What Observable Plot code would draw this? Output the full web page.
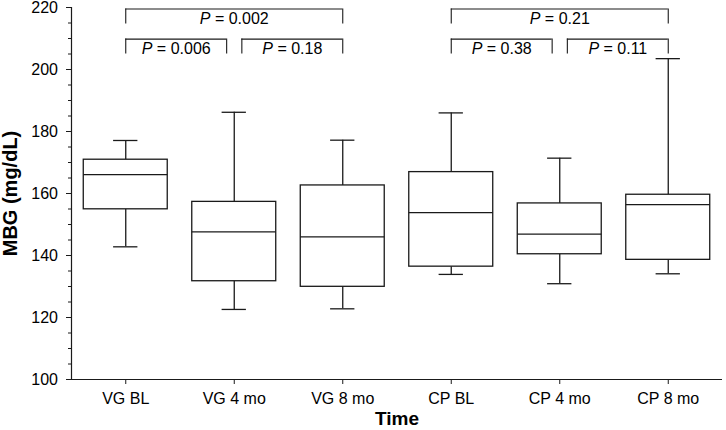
<!DOCTYPE html>
<html><head><meta charset="utf-8">
<script src="https://cdn.jsdelivr.net/npm/d3@7"></script>
<script src="https://cdn.jsdelivr.net/npm/@observablehq/plot@0.6"></script>
<style>body{margin:0;background:#fff}</style>
</head><body><div id="chart"></div>
<script>
const categories = ["VG BL", "VG 4 mo", "VG 8 mo", "CP BL", "CP 4 mo", "CP 8 mo"];
const whiskerLow  = [142.8, 122.6, 122.8, 133.9, 130.9, 134.1];
const q1          = [154.9, 131.7, 129.9, 136.4, 140.4, 138.6];
const median      = [166.1, 147.6, 146.0, 153.8, 146.9, 156.4];
const q3          = [170.9, 157.3, 162.6, 166.9, 156.8, 159.6];
const whiskerHigh = [177.1, 186.2, 177.2, 186.0, 171.4, 203.5];

const compFrom = ["VG BL", "VG BL", "VG 4 mo", "CP BL", "CP BL", "CP 4 mo"];
const compTo   = ["VG 8 mo", "VG 4 mo", "VG 8 mo", "CP 8 mo", "CP 4 mo", "CP 8 mo"];
const pValues  = ["0.002", "0.006", "0.18", "0.21", "0.38", "0.11"];

const yMajorTicks = [100, 120, 140, 160, 180, 200, 220];
const yMinorTicks = d3.range(100, 221, 5);
const yLabel = "MBG (mg/dL)";
const xLabel = "Time";

// build tables
const boxes = categories.map((c, i) => ({
  i, c, lo: whiskerLow[i], q1: q1[i], med: median[i], q3: q3[i], hi: whiskerHigh[i]
}));
const boxHalf = 0.387, capHalf = 0.112, gap = 0.07;
const idx = c => categories.indexOf(c);
const singles = compFrom.map((f, k) => ({f: idx(f), t: idx(compTo[k]), k})).filter(d => d.t - d.f === 1);
const brackets = compFrom.map((f, k) => {
  const a = idx(f), b = idx(compTo[k]);
  const span = b - a;
  let x1 = a, x2 = b;
  if (span === 1) {
    if (singles.some(s => s.f === b)) x2 = b - gap;
    if (singles.some(s => s.t === a)) x1 = a + gap;
  }
  const top = span >= 2 ? 219.5 : 209.8;
  return {x1, x2, top, bottom: top - 4.8, label: "P = " + pValues[k]};
});
const legs = brackets.flatMap(b => [{x: b.x1, y1: b.top, y2: b.bottom}, {x: b.x2, y1: b.top, y2: b.bottom}]);

const ink = "#1a1a1a";
const font = "'Liberation Sans', Arial, sans-serif";
const chart = Plot.plot({
  width: 726,
  height: 430,
  marginTop: 7,
  marginBottom: 51,
  marginLeft: 71,
  marginRight: 4,
  style: {fontFamily: font, fontSize: "16px", color: "#000", background: "#fff"},
  x: {domain: [-0.5, 5.5], axis: null},
  y: {domain: [100, 220], axis: null},
  marks: [
    // axes
    Plot.axisY({ticks: yMinorTicks, tickSize: 3, tickFormat: () => "", stroke: ink}),
    Plot.axisY({ticks: yMajorTicks, tickSize: 5, tickPadding: 8.5, stroke: ink, fontSize: 16}),
    Plot.axisX({ticks: d3.range(categories.length), tickFormat: i => categories[i], tickSize: 5, tickPadding: 8.5, stroke: ink, fontSize: 16}),
    Plot.ruleX([-0.5], {y1: 100, y2: 220, stroke: ink, strokeWidth: 1.2}),
    Plot.ruleY([100], {stroke: ink, strokeWidth: 1.2}),
    // whiskers
    Plot.ruleX(boxes, {x: "i", y1: "lo", y2: "q1", stroke: ink, strokeWidth: 1.3}),
    Plot.ruleX(boxes, {x: "i", y1: "q3", y2: "hi", stroke: ink, strokeWidth: 1.3}),
    Plot.ruleY(boxes, {y: "lo", x1: d => d.i - capHalf, x2: d => d.i + capHalf, stroke: ink, strokeWidth: 1.3}),
    Plot.ruleY(boxes, {y: "hi", x1: d => d.i - capHalf, x2: d => d.i + capHalf, stroke: ink, strokeWidth: 1.3}),
    // boxes
    Plot.rect(boxes, {x1: d => d.i - boxHalf, x2: d => d.i + boxHalf, y1: "q1", y2: "q3", fill: "white", stroke: ink, strokeWidth: 1.3}),
    Plot.ruleY(boxes, {y: "med", x1: d => d.i - boxHalf, x2: d => d.i + boxHalf, stroke: ink, strokeWidth: 1.3}),
    // significance brackets
    Plot.ruleY(brackets, {y: "top", x1: "x1", x2: "x2", stroke: ink, strokeWidth: 1.1}),
    Plot.ruleX(legs, {x: "x", y1: "y1", y2: "y2", stroke: ink, strokeWidth: 1.1}),
    Plot.text(brackets, {x: d => (d.x1 + d.x2) / 2, y: "top", text: "label", lineAnchor: "top", dy: 4, fontSize: 16, fill: "#000", className: "pval"}),
    // axis titles
    Plot.text([xLabel], {frameAnchor: "bottom", dy: 39, textAnchor: "middle", lineAnchor: "middle", fontWeight: "bold", fontSize: 19, fill: "#000"}),
    Plot.text([yLabel], {frameAnchor: "left", dx: -61, dy: 0, rotate: -90, textAnchor: "middle", lineAnchor: "middle", fontWeight: "bold", fontSize: 20, fill: "#000"})
  ]
});
// italicize the leading "P" in p-value labels
chart.querySelectorAll("g.pval text").forEach(t => {
  const s = t.textContent;
  t.textContent = "";
  const ns = "http://www.w3.org/2000/svg";
  const a = document.createElementNS(ns, "tspan");
  a.setAttribute("font-style", "italic");
  a.textContent = s.slice(0, 1);
  const b = document.createElementNS(ns, "tspan");
  b.textContent = s.slice(1);
  t.appendChild(a); t.appendChild(b);
});
document.getElementById("chart").appendChild(chart);
</script>
</body></html>
